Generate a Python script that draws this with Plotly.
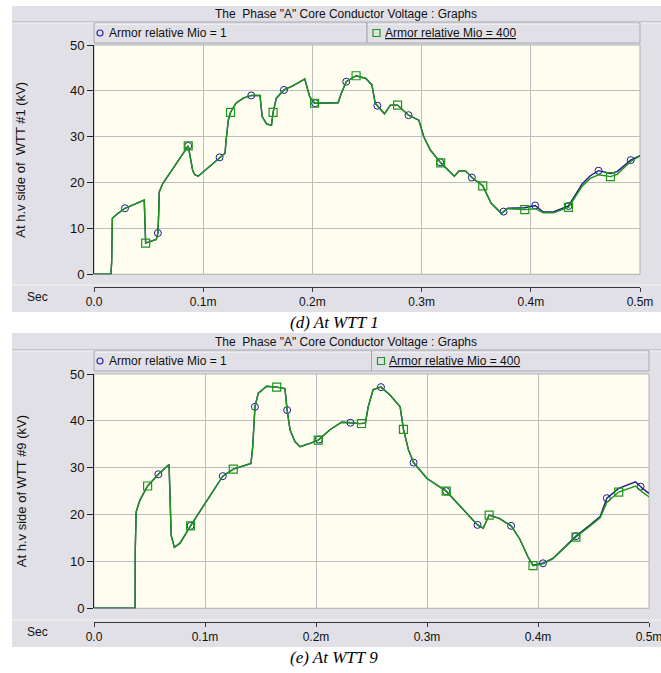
import numpy as np
import plotly.graph_objects as go

W, H = 661, 673


def px(x):
    return x / W


def py(y):
    return 1 - y / H


# ---------------- data (time in ms, voltage in kV) ----------------
t_wtt1 = [0, 0.0155, 0.0162, 0.0168, 0.022, 0.0284, 0.046, 0.0468, 0.0473, 0.057,
          0.0585, 0.0592, 0.0598, 0.063, 0.0756, 0.0863, 0.0905, 0.0924, 0.0954, 0.115,
          0.12, 0.121, 0.123, 0.125, 0.130, 0.1366, 0.144, 0.152, 0.154, 0.158,
          0.1625, 0.164, 0.167, 0.174, 0.182, 0.193, 0.1976, 0.202, 0.2235, 0.2265,
          0.231, 0.240, 0.249, 0.2545, 0.2575, 0.266, 0.2714, 0.278, 0.288, 0.2975,
          0.302, 0.308, 0.3175, 0.330, 0.3345, 0.3405, 0.346, 0.356, 0.3637, 0.373,
          0.379, 0.3945, 0.404, 0.4114, 0.4206, 0.4345, 0.447, 0.4545, 0.462, 0.473,
          0.479, 0.4915, 0.500]
v_wtt1_mio1 = [0, 0, 2.8, 12.2, 13.3, 14.4, 16.2, 8.0, 6.8, 7.6,
               9.0, 13.0, 18.0, 19.8, 24.2, 28.0, 22.5, 21.7, 21.4, 25.5,
               26.4, 29.3, 33.6, 35.3, 37.3, 38.4, 39.0, 39.0, 34.4, 32.8,
               32.5, 35.3, 38.4, 40.2, 41.1, 42.6, 38.7, 37.3, 37.4, 39.5,
               42.0, 43.3, 42.7, 41.3, 37.3, 35.0, 36.9, 36.9, 34.7, 33.6,
               30.0, 27.1, 24.3, 21.4, 22.6, 22.5, 21.1, 19.3, 15.5, 13.3,
               14.4, 14.5, 15.0, 13.6, 13.6, 14.9, 19.7, 21.5, 22.6, 22.0,
               22.4, 24.9, 25.9]
v_wtt1_mio400 = [0, 0, 2.8, 12.2, 13.3, 14.4, 16.2, 8.0, 6.8, 7.6,
                 9.0, 13.0, 18.0, 19.8, 24.2, 28.0, 22.5, 21.7, 21.4, 25.5,
                 26.4, 29.3, 33.6, 35.3, 37.3, 38.4, 39.0, 39.0, 34.4, 32.8,
                 32.5, 35.3, 38.4, 40.2, 41.1, 42.6, 38.7, 37.3, 37.4, 39.5,
                 42.0, 43.3, 42.7, 41.3, 37.3, 35.0, 36.9, 36.9, 34.7, 33.6,
                 30.0, 27.1, 24.3, 21.4, 22.6, 22.5, 21.1, 19.3, 15.5, 13.3,
                 14.3, 14.1, 14.3, 13.4, 13.4, 14.6, 19.2, 20.9, 21.7, 21.3,
                 21.8, 24.6, 25.8]
circ_t_wtt1 = [0.0284, 0.0585, 0.0863, 0.115, 0.144, 0.174, 0.2025, 0.231, 0.2595,
               0.288, 0.317, 0.346, 0.375, 0.404, 0.4345, 0.462, 0.4915]
sq_t_wtt1 = [0.0473, 0.0863, 0.125, 0.164, 0.202, 0.240, 0.278, 0.3175, 0.356,
             0.3945, 0.4345, 0.473]

t_wtt9 = [0, 0.037, 0.0372, 0.038, 0.0414, 0.0483, 0.058, 0.0676, 0.0685, 0.0695,
          0.0724, 0.0775, 0.087, 0.100, 0.116, 0.1255, 0.1414, 0.143, 0.144, 0.145,
          0.148, 0.1556, 0.1646, 0.172, 0.174, 0.1766, 0.181, 0.1856, 0.1946, 0.202,
          0.2126, 0.223, 0.231, 0.2394, 0.2445, 0.247, 0.2515, 0.2585, 0.2667, 0.2758,
          0.2788, 0.2833, 0.2879, 0.300, 0.3173, 0.3288, 0.3455, 0.3506, 0.356, 0.365,
          0.3758, 0.3833, 0.3909, 0.3955, 0.4045, 0.4136, 0.4342, 0.447, 0.456, 0.462,
          0.4727, 0.4879, 0.494, 0.500]
v_wtt9_mio1 = [0, 0, 12.8, 20.6, 23.1, 26.1, 28.6, 30.7, 23.8, 15.6,
               13.0, 13.9, 17.6, 22.4, 28.2, 29.7, 30.9, 34.5, 39.8, 43.0,
               45.9, 47.4, 47.2, 46.9, 42.3, 38.1, 35.6, 34.5, 35.2, 35.9,
               38.1, 39.7, 39.6, 39.4, 39.5, 43.0, 46.7, 47.2, 45.5, 43.0,
               38.2, 33.8, 31.1, 27.7, 25.0, 22.0, 17.8, 17.1, 19.9, 19.2,
               17.6, 14.9, 11.0, 9.2, 9.6, 10.7, 15.4, 17.8, 19.6, 23.5,
               25.6, 27.0, 25.6, 24.5]
v_wtt9_mio400 = [0, 0, 12.8, 20.6, 23.1, 26.1, 28.6, 30.7, 23.8, 15.6,
                 13.0, 13.9, 17.6, 22.4, 28.2, 29.7, 30.9, 34.5, 39.8, 43.0,
                 45.9, 47.4, 47.2, 46.9, 42.3, 38.1, 35.6, 34.5, 35.2, 35.9,
                 38.1, 39.7, 39.6, 39.4, 39.5, 43.0, 46.7, 47.2, 45.5, 43.0,
                 38.2, 33.8, 31.1, 27.7, 25.0, 22.0, 17.8, 17.1, 19.9, 19.2,
                 17.6, 14.9, 11.0, 9.1, 9.5, 10.6, 15.2, 17.6, 19.3, 22.6,
                 24.8, 26.1, 24.8, 23.8]
circ_t_wtt9 = [0.058, 0.087, 0.116, 0.145, 0.174, 0.2025, 0.231, 0.2585, 0.2879,
               0.3173, 0.3455, 0.3758, 0.4045, 0.4342, 0.462, 0.4924]
sq_t_wtt9 = [0.0483, 0.087, 0.1255, 0.1646, 0.202, 0.241, 0.2788, 0.3173, 0.356,
             0.3955, 0.4342, 0.4727]

x_tick_vals = [0, 0.1, 0.2, 0.3, 0.4, 0.5]
x_tick_text = ["0.0", "0.1m", "0.2m", "0.3m", "0.4m", "0.5m"]
y_tick_vals = [0, 10, 20, 30, 40, 50]

series_names = ["Armor relative Mio = 1", "Armor relative Mio = 400"]
panel_title = 'The  Phase "A" Core Conductor Voltage : Graphs'
y_titles = ["At h.v side of  WTT #1 (kV)", "At h.v side of WTT #9 (kV)"]
captions = ["(d) At WTT 1", "(e) At WTT 9"]

# ---------------- styles ----------------
GRAY = "#E1E0E7"
CREAM = "#FFFCF0"
GRID = "#BDBDBD"
BLUE = "#1B1B8E"
GREEN = "#1C961C"
FONT = "Liberation Sans"

panels = [
    dict(top=6, title_sep=22, leg_top=23, leg_bot=43, plot_top=45, plot_bot=274.3,
         plot_l=94, plot_r=640, axis_y=287, bottom=312, caption_y=322),
    dict(top=333, title_sep=350, leg_top=351, leg_bot=371, plot_top=374, plot_bot=608.3,
         plot_l=94, plot_r=649, axis_y=622, bottom=647, caption_y=657),
]
datasets = [
    (t_wtt1, v_wtt1_mio1, v_wtt1_mio400, circ_t_wtt1, sq_t_wtt1),
    (t_wtt9, v_wtt9_mio1, v_wtt9_mio400, circ_t_wtt9, sq_t_wtt9),
]

fig = go.Figure()
shapes = []
annotations = []

for i, (p, d) in enumerate(zip(panels, datasets)):
    xa = "x" if i == 0 else "x2"
    ya = "y" if i == 0 else "y2"
    t, v1, v400, ct, st = d
    t = np.array(t)
    v1 = np.array(v1)
    v400 = np.array(v400)
    ct = np.array(ct)
    st = np.array(st)

    fig.add_trace(go.Scatter(x=t, y=v1, mode="lines", line=dict(color=BLUE, width=1.4),
                             xaxis=xa, yaxis=ya, showlegend=False, hoverinfo="skip"))
    fig.add_trace(go.Scatter(x=ct, y=np.interp(ct, t, v1), mode="markers",
                             marker=dict(symbol="circle-open", size=7, color=BLUE,
                                         line=dict(width=1, color="#3A3AB0")),
                             xaxis=xa, yaxis=ya, showlegend=False, hoverinfo="skip"))
    fig.add_trace(go.Scatter(x=t, y=v400, mode="lines", line=dict(color=GREEN, width=1.4),
                             xaxis=xa, yaxis=ya, showlegend=False, hoverinfo="skip"))
    fig.add_trace(go.Scatter(x=st, y=np.interp(st, t, v400), mode="markers",
                             marker=dict(symbol="square-open", size=8, color=GREEN,
                                         line=dict(width=1.2, color=GREEN)),
                             xaxis=xa, yaxis=ya, showlegend=False, hoverinfo="skip"))

    # panel background
    shapes.append(dict(type="rect", xref="paper", yref="paper", layer="below",
                       x0=px(12), x1=px(661), y0=py(p["bottom"]), y1=py(p["top"]),
                       fillcolor=GRAY, line=dict(width=0)))
    # title separator
    shapes.append(dict(type="line", xref="paper", yref="paper", layer="below",
                       x0=px(12), x1=px(661), y0=py(p["title_sep"]), y1=py(p["title_sep"]),
                       line=dict(color="#A9A8B0", width=1)))
    shapes.append(dict(type="line", xref="paper", yref="paper", layer="below",
                       x0=px(12), x1=px(661), y0=py(p["title_sep"] + 1), y1=py(p["title_sep"] + 1),
                       line=dict(color="#F6F6F8", width=1)))
    # legend boxes
    mid = (p["plot_l"] + p["plot_r"]) / 2
    for (l, r) in [(p["plot_l"], mid), (mid, p["plot_r"])]:
        shapes.append(dict(type="rect", xref="paper", yref="paper", layer="below",
                           x0=px(l), x1=px(r), y0=py(p["leg_bot"]), y1=py(p["leg_top"]),
                           fillcolor=GRAY, line=dict(color="#A8A7AF", width=1)))
        shapes.append(dict(type="line", xref="paper", yref="paper", layer="below",
                           x0=px(l + 1), x1=px(r - 1), y0=py(p["leg_top"] + 1), y1=py(p["leg_top"] + 1),
                           line=dict(color="#FAFAFC", width=1)))
    leg_cy = (p["leg_top"] + p["leg_bot"]) / 2
    shapes.append(dict(type="circle", xref="paper", yref="paper",
                       x0=px(p["plot_l"] + 3), x1=px(p["plot_l"] + 9),
                       y0=py(leg_cy + 3), y1=py(leg_cy - 3),
                       line=dict(color="#2A2AA0", width=1.2)))
    shapes.append(dict(type="rect", xref="paper", yref="paper",
                       x0=px(mid + 6), x1=px(mid + 13),
                       y0=py(leg_cy + 3.5), y1=py(leg_cy - 3.5),
                       line=dict(color=GREEN, width=1.2)))
    annotations.append(dict(xref="paper", yref="paper", x=px(p["plot_l"] + 13), y=py(leg_cy),
                            xanchor="left", yanchor="middle", showarrow=False,
                            text=series_names[0], font=dict(family=FONT, size=12, color="#111")))
    annotations.append(dict(xref="paper", yref="paper", x=px(mid + 16), y=py(leg_cy),
                            xanchor="left", yanchor="middle", showarrow=False,
                            text="<u>" + series_names[1] + "</u>",
                            font=dict(family=FONT, size=12, color="#111")))
    # plot area
    shapes.append(dict(type="rect", xref="paper", yref="paper", layer="below",
                       x0=px(p["plot_l"]), x1=px(p["plot_r"]),
                       y0=py(p["plot_bot"]), y1=py(p["plot_top"]),
                       fillcolor=CREAM, line=dict(color="#B0B0B0", width=1)))
    # separator above x axis
    shapes.append(dict(type="line", xref="paper", yref="paper", layer="below",
                       x0=px(12), x1=px(661), y0=py(p["axis_y"] - 2), y1=py(p["axis_y"] - 2),
                       line=dict(color="#F4F4F6", width=1)))
    # title
    annotations.append(dict(xref="paper", yref="paper", x=px(346), y=py((p["top"] + p["title_sep"]) / 2),
                            xanchor="center", yanchor="middle", showarrow=False,
                            text=panel_title, font=dict(family=FONT, size=12, color="#111")))
    # y title
    annotations.append(dict(xref="paper", yref="paper", x=px(21), y=py((p["plot_top"] + p["plot_bot"]) / 2),
                            xanchor="center", yanchor="middle", showarrow=False, textangle=-90,
                            text=y_titles[i], font=dict(family=FONT, size=13, color="#111")))
    # Sec
    annotations.append(dict(xref="paper", yref="paper", x=px(37), y=py(p["axis_y"] + 10),
                            xanchor="center", yanchor="middle", showarrow=False,
                            text="Sec", font=dict(family=FONT, size=12, color="#111")))
    # caption
    annotations.append(dict(xref="paper", yref="paper", x=px(334), y=py(p["caption_y"]),
                            xanchor="center", yanchor="middle", showarrow=False,
                            text="<i>" + captions[i] + "</i>",
                            font=dict(family="Liberation Serif", size=17, color="#000")))

    xaxis = dict(domain=[px(p["plot_l"]), px(p["plot_r"])], range=[0, 0.5],
                 anchor="free", position=py(p["axis_y"]), automargin=False,
                 showline=True, linecolor="#3A3A3A", linewidth=1,
                 ticks="outside", ticklen=4, tickcolor="#3A3A3A",
                 tickvals=x_tick_vals, ticktext=x_tick_text, ticklabeloverflow="allow",
                 tickfont=dict(family=FONT, size=12, color="#111"),
                 showgrid=True, gridcolor=GRID, gridwidth=1.3, zeroline=False,
                 fixedrange=True)
    yaxis = dict(domain=[py(p["plot_bot"]), py(p["plot_top"])], range=[0, 50],
                 anchor=xa, automargin=False, showline=True, linecolor="#222", linewidth=1,
                 ticks="outside", ticklen=6, tickcolor="#222",
                 tickvals=y_tick_vals, tickfont=dict(family=FONT, size=13, color="#111"),
                 showgrid=True, gridcolor=GRID, gridwidth=1.3, zeroline=False,
                 fixedrange=True)
    if i == 0:
        fig.update_layout(xaxis=xaxis, yaxis=yaxis)
    else:
        fig.update_layout(xaxis2=xaxis, yaxis2=yaxis)

fig.update_layout(width=W, height=H, margin=dict(l=0, r=0, t=0, b=0, autoexpand=False),
                  paper_bgcolor="white", plot_bgcolor="rgba(0,0,0,0)",
                  shapes=shapes, annotations=annotations, showlegend=False)

fig.write_html("out.html", config={"displayModeBar": False},
               post_script="document.body.style.margin='0px';document.body.style.overflow='hidden';")
